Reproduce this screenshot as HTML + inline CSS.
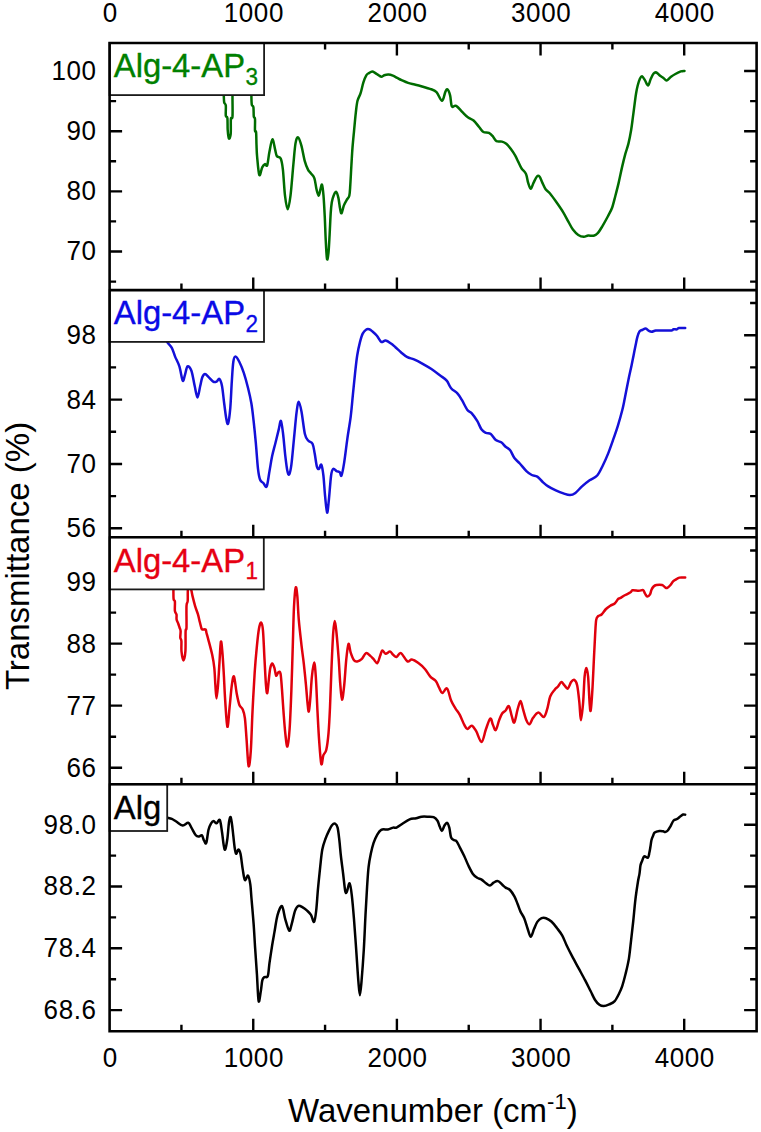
<!DOCTYPE html><html><head><meta charset="utf-8"><style>html,body{margin:0;padding:0;background:#fff;}svg{display:block;}text{font-family:"Liberation Sans",sans-serif;}</style></head><body>
<svg width="761" height="1132" viewBox="0 0 761 1132">
<rect x="0" y="0" width="761" height="1132" fill="#fff"/>
<defs>
<clipPath id="c0"><rect x="109.6" y="43.0" width="647.0" height="247.10000000000002"/></clipPath>
<clipPath id="c1"><rect x="109.6" y="290.1" width="647.0" height="247.10000000000002"/></clipPath>
<clipPath id="c2"><rect x="109.6" y="537.2" width="647.0" height="247.0999999999999"/></clipPath>
<clipPath id="c3"><rect x="109.6" y="784.3" width="647.0" height="247.0"/></clipPath>
</defs>
<path clip-path="url(#c0)" d="M223.60,86.00 C223.63,87.60 223.70,92.87 223.80,95.60 C223.90,98.33 223.87,100.75 224.20,102.40 C224.53,104.05 225.53,103.27 225.80,105.50 C226.07,107.73 225.53,113.70 225.80,115.80 C226.07,117.90 227.08,115.73 227.40,118.10 C227.72,120.47 227.45,126.58 227.70,130.00 C227.95,133.42 228.40,137.95 228.90,138.60 C229.40,139.25 230.37,137.18 230.70,133.90 C231.03,130.62 230.60,121.80 230.90,118.90 C231.20,116.00 232.23,120.32 232.50,116.50 C232.77,112.68 232.42,101.08 232.50,96.00 C232.58,90.92 231.42,88.67 233.00,86.00 C234.58,83.33 238.93,80.00 242.00,80.00 C245.07,80.00 249.83,83.33 251.40,86.00 C252.97,88.67 251.33,92.88 251.40,96.00 C251.47,99.12 251.47,102.85 251.80,104.70 C252.13,106.55 253.07,105.13 253.40,107.10 C253.73,109.07 253.53,114.53 253.80,116.50 C254.07,118.47 254.80,116.53 255.00,118.90 C255.20,121.27 254.82,128.47 255.00,130.70 C255.18,132.93 255.85,129.92 256.10,132.30 C256.35,134.68 256.33,140.97 256.50,145.00 C256.67,149.03 256.63,151.50 257.10,156.50 C257.57,161.50 258.45,173.18 259.30,175.00 C260.15,176.82 261.25,169.22 262.20,167.40 C263.15,165.58 264.17,164.47 265.00,164.10 C265.83,163.73 266.47,167.20 267.20,165.20 C267.93,163.20 268.53,156.40 269.40,152.10 C270.27,147.80 271.43,139.77 272.40,139.40 C273.37,139.03 274.47,147.13 275.20,149.90 C275.93,152.67 275.88,154.55 276.80,156.00 C277.72,157.45 279.68,156.33 280.70,158.60 C281.72,160.87 282.18,163.42 282.90,169.60 C283.62,175.78 284.20,189.08 285.00,195.70 C285.80,202.32 286.78,209.30 287.70,209.30 C288.62,209.30 289.57,203.05 290.50,195.70 C291.43,188.35 292.47,173.92 293.30,165.20 C294.13,156.48 294.70,148.05 295.50,143.40 C296.30,138.75 297.12,136.93 298.10,137.30 C299.08,137.67 300.30,141.68 301.40,145.60 C302.50,149.52 303.60,156.80 304.70,160.80 C305.80,164.80 306.95,167.48 308.00,169.60 C309.05,171.72 309.93,172.05 311.00,173.50 C312.07,174.95 313.48,175.68 314.40,178.30 C315.32,180.92 315.78,186.30 316.50,189.20 C317.22,192.10 318.03,195.70 318.70,195.70 C319.37,195.70 319.95,191.02 320.50,189.20 C321.05,187.38 321.50,183.72 322.00,184.80 C322.50,185.88 323.03,190.23 323.50,195.70 C323.97,201.17 324.43,210.32 324.80,217.60 C325.17,224.88 325.33,232.50 325.70,239.40 C326.07,246.30 326.53,256.82 327.00,259.00 C327.47,261.18 328.07,256.50 328.50,252.50 C328.93,248.50 329.23,241.55 329.60,235.00 C329.97,228.45 330.33,218.65 330.70,213.20 C331.07,207.75 331.32,205.22 331.80,202.30 C332.28,199.38 332.87,197.45 333.60,195.70 C334.33,193.95 335.40,191.43 336.20,191.80 C337.00,192.17 337.75,195.07 338.40,197.90 C339.05,200.73 339.57,206.25 340.10,208.80 C340.63,211.35 340.98,213.73 341.60,213.20 C342.22,212.67 342.97,207.78 343.80,205.60 C344.63,203.42 345.68,201.75 346.60,200.10 C347.52,198.45 348.68,198.25 349.30,195.70 C349.92,193.15 349.95,189.88 350.30,184.80 C350.65,179.72 351.03,171.38 351.40,165.20 C351.77,159.02 352.05,153.52 352.50,147.70 C352.95,141.88 353.55,136.12 354.10,130.30 C354.65,124.48 355.23,117.72 355.80,112.80 C356.37,107.88 356.70,104.07 357.50,100.80 C358.30,97.53 359.62,96.28 360.60,93.20 C361.58,90.12 362.45,85.28 363.40,82.30 C364.35,79.32 365.38,76.83 366.30,75.30 C367.22,73.77 367.92,73.75 368.90,73.10 C369.88,72.45 371.12,71.40 372.20,71.40 C373.28,71.40 374.32,72.45 375.40,73.10 C376.48,73.75 377.68,74.68 378.70,75.30 C379.72,75.92 380.58,76.80 381.50,76.80 C382.42,76.80 383.03,75.67 384.20,75.30 C385.37,74.93 387.05,74.53 388.50,74.60 C389.95,74.67 391.45,75.15 392.90,75.70 C394.35,76.25 395.75,77.17 397.20,77.90 C398.65,78.63 399.78,79.27 401.60,80.10 C403.42,80.93 405.92,82.17 408.10,82.90 C410.28,83.63 412.52,83.95 414.70,84.50 C416.88,85.05 419.02,85.58 421.20,86.20 C423.38,86.82 426.33,87.77 427.80,88.20 C429.27,88.63 428.55,88.15 430.00,88.80 C431.45,89.45 434.50,90.10 436.50,92.10 C438.50,94.10 440.53,100.80 442.00,100.80 C443.47,100.80 444.40,94.02 445.30,92.10 C446.20,90.18 446.60,88.75 447.40,89.30 C448.20,89.85 449.37,92.57 450.10,95.40 C450.83,98.23 450.97,104.57 451.80,106.30 C452.63,108.03 454.18,105.73 455.10,105.80 C456.02,105.87 456.03,105.60 457.30,106.70 C458.57,107.80 460.88,110.58 462.70,112.40 C464.52,114.22 466.38,116.25 468.20,117.60 C470.02,118.95 471.78,118.93 473.60,120.50 C475.42,122.07 477.47,125.08 479.10,127.00 C480.73,128.92 481.77,131.02 483.40,132.00 C485.03,132.98 487.27,132.10 488.90,132.90 C490.53,133.70 491.93,135.42 493.20,136.80 C494.47,138.18 495.03,140.40 496.50,141.20 C497.97,142.00 500.37,141.17 502.00,141.60 C503.63,142.03 504.85,142.60 506.30,143.80 C507.75,145.00 509.23,146.87 510.70,148.80 C512.17,150.73 513.83,153.22 515.10,155.40 C516.37,157.58 517.22,159.72 518.30,161.90 C519.38,164.08 520.32,166.50 521.60,168.50 C522.88,170.50 524.92,171.55 526.00,173.90 C527.08,176.25 527.30,180.12 528.10,182.60 C528.90,185.08 529.88,188.80 530.80,188.80 C531.72,188.80 532.58,184.65 533.60,182.60 C534.62,180.55 535.92,177.52 536.90,176.50 C537.88,175.48 538.60,175.48 539.50,176.50 C540.40,177.52 541.28,180.48 542.30,182.60 C543.32,184.72 544.32,187.38 545.60,189.20 C546.88,191.02 548.18,191.32 550.00,193.50 C551.82,195.68 554.32,199.20 556.50,202.30 C558.68,205.40 561.10,208.83 563.10,212.10 C565.10,215.37 566.87,218.98 568.50,221.90 C570.13,224.82 571.27,227.42 572.90,229.60 C574.53,231.78 576.48,233.80 578.30,235.00 C580.12,236.20 582.15,236.72 583.80,236.80 C585.45,236.88 586.57,235.68 588.20,235.50 C589.83,235.32 591.97,236.15 593.60,235.70 C595.23,235.25 596.55,234.37 598.00,232.80 C599.45,231.23 600.67,229.02 602.30,226.30 C603.93,223.58 606.17,219.60 607.80,216.50 C609.43,213.40 610.83,211.17 612.10,207.70 C613.37,204.23 614.30,199.88 615.40,195.70 C616.50,191.52 617.60,187.32 618.70,182.60 C619.80,177.88 620.92,172.12 622.00,167.40 C623.08,162.68 624.12,158.30 625.20,154.30 C626.28,150.30 627.52,147.40 628.50,143.40 C629.48,139.40 630.37,134.67 631.10,130.30 C631.83,125.93 632.32,121.57 632.90,117.20 C633.48,112.83 634.07,108.10 634.60,104.10 C635.13,100.10 635.58,96.30 636.10,93.20 C636.62,90.10 637.08,87.87 637.70,85.50 C638.32,83.13 639.08,80.55 639.80,79.00 C640.52,77.45 641.15,76.02 642.00,76.20 C642.85,76.38 643.88,78.55 644.90,80.10 C645.92,81.65 647.13,85.68 648.10,85.50 C649.07,85.32 649.78,81.00 650.70,79.00 C651.62,77.00 652.65,74.58 653.60,73.50 C654.55,72.42 655.32,72.13 656.40,72.50 C657.48,72.87 658.93,74.80 660.10,75.70 C661.27,76.60 662.30,77.10 663.40,77.90 C664.50,78.70 665.43,80.68 666.70,80.50 C667.97,80.32 669.55,77.88 671.00,76.80 C672.45,75.72 673.77,74.90 675.40,74.00 C677.03,73.10 679.28,71.92 680.80,71.40 C682.32,70.88 683.88,70.98 684.50,70.90" fill="none" stroke="#006c00" stroke-width="2.5" stroke-linejoin="round" stroke-linecap="round"/>
<path clip-path="url(#c1)" d="M163.00,334.00 C163.73,335.40 165.93,340.10 167.40,342.40 C168.87,344.70 170.52,345.43 171.80,347.80 C173.08,350.17 173.83,353.50 175.10,356.60 C176.37,359.70 178.13,362.40 179.40,366.40 C180.67,370.40 181.78,379.15 182.70,380.60 C183.62,382.05 184.10,377.47 184.90,375.10 C185.70,372.73 186.42,367.13 187.50,366.40 C188.58,365.67 190.20,367.43 191.40,370.70 C192.60,373.97 193.68,381.55 194.70,386.00 C195.72,390.45 196.58,397.40 197.50,397.40 C198.42,397.40 199.40,389.35 200.20,386.00 C201.00,382.65 201.50,379.30 202.30,377.30 C203.10,375.30 203.90,374.00 205.00,374.00 C206.10,374.00 207.53,376.03 208.90,377.30 C210.27,378.57 211.93,380.88 213.20,381.60 C214.47,382.32 215.47,382.03 216.50,381.60 C217.53,381.17 218.48,378.27 219.40,379.00 C220.32,379.73 221.20,381.92 222.00,386.00 C222.80,390.08 223.48,398.05 224.20,403.50 C224.92,408.95 225.65,415.37 226.30,418.70 C226.95,422.03 227.43,425.32 228.10,423.50 C228.77,421.68 229.68,414.78 230.30,407.80 C230.92,400.82 231.30,389.23 231.80,381.60 C232.30,373.97 232.68,366.17 233.30,362.00 C233.92,357.83 234.48,356.60 235.50,356.60 C236.52,356.60 238.02,359.28 239.40,362.00 C240.78,364.72 242.35,368.53 243.80,372.90 C245.25,377.27 246.83,383.10 248.10,388.20 C249.37,393.30 250.48,398.05 251.40,403.50 C252.32,408.95 252.87,414.37 253.60,420.90 C254.33,427.43 255.07,434.70 255.80,442.70 C256.53,450.70 257.28,462.72 258.00,468.90 C258.72,475.08 259.20,477.43 260.10,479.80 C261.00,482.17 262.30,482.00 263.40,483.10 C264.50,484.20 265.68,488.40 266.70,486.40 C267.72,484.40 268.58,476.20 269.50,471.10 C270.42,466.00 271.20,460.53 272.20,455.80 C273.20,451.07 274.42,447.07 275.50,442.70 C276.58,438.33 277.80,433.23 278.70,429.60 C279.60,425.97 280.17,420.17 280.90,420.90 C281.63,421.63 282.37,428.18 283.10,434.00 C283.83,439.82 284.58,449.62 285.30,455.80 C286.02,461.98 286.75,468.00 287.40,471.10 C288.05,474.20 288.53,475.48 289.20,474.40 C289.87,473.32 290.60,470.60 291.40,464.60 C292.20,458.60 293.13,447.13 294.00,438.40 C294.87,429.67 295.80,418.32 296.60,412.20 C297.40,406.08 297.97,401.70 298.80,401.70 C299.63,401.70 300.58,406.82 301.60,412.20 C302.62,417.58 303.80,429.27 304.90,434.00 C306.00,438.73 306.93,438.97 308.20,440.60 C309.47,442.23 311.42,441.63 312.50,443.80 C313.58,445.97 313.97,449.78 314.70,453.60 C315.43,457.42 316.17,464.15 316.90,466.70 C317.63,469.25 318.37,469.25 319.10,468.90 C319.83,468.55 320.58,463.50 321.30,464.60 C322.02,465.70 322.78,470.42 323.40,475.50 C324.02,480.58 324.38,488.92 325.00,495.10 C325.62,501.28 326.45,511.87 327.10,512.60 C327.75,513.33 328.23,505.68 328.90,499.50 C329.57,493.32 330.38,480.60 331.10,475.50 C331.82,470.40 332.30,469.63 333.20,468.90 C334.10,468.17 335.40,470.55 336.50,471.10 C337.60,471.65 338.97,471.47 339.80,472.20 C340.63,472.93 340.77,477.13 341.50,475.50 C342.23,473.87 343.22,468.58 344.20,462.40 C345.18,456.22 346.32,446.03 347.40,438.40 C348.48,430.77 349.78,423.88 350.70,416.60 C351.62,409.32 352.17,401.98 352.90,394.70 C353.63,387.42 354.38,379.43 355.10,372.90 C355.82,366.37 356.40,360.58 357.20,355.50 C358.00,350.42 358.98,346.05 359.90,342.40 C360.82,338.75 361.68,335.72 362.70,333.60 C363.72,331.48 364.92,330.42 366.00,329.70 C367.08,328.98 368.12,329.00 369.20,329.30 C370.28,329.60 371.22,330.42 372.50,331.50 C373.78,332.58 375.45,334.07 376.90,335.80 C378.35,337.53 379.75,341.10 381.20,341.90 C382.65,342.70 383.97,340.33 385.60,340.60 C387.23,340.87 389.37,342.40 391.00,343.50 C392.63,344.60 393.75,345.75 395.40,347.20 C397.05,348.65 398.90,350.53 400.90,352.20 C402.90,353.87 405.22,356.00 407.40,357.20 C409.58,358.40 411.45,358.30 414.00,359.40 C416.55,360.50 419.80,362.20 422.70,363.80 C425.60,365.40 428.48,367.05 431.40,369.00 C434.32,370.95 437.65,373.57 440.20,375.50 C442.75,377.43 444.88,378.48 446.70,380.60 C448.52,382.72 449.28,386.03 451.10,388.20 C452.92,390.37 455.78,391.60 457.60,393.60 C459.42,395.60 460.37,397.47 462.00,400.20 C463.63,402.93 465.77,407.82 467.40,410.00 C469.03,412.18 470.17,411.48 471.80,413.30 C473.43,415.12 475.57,418.18 477.20,420.90 C478.83,423.62 480.13,427.60 481.60,429.60 C483.07,431.60 484.47,432.17 486.00,432.90 C487.53,433.63 489.17,432.80 490.80,434.00 C492.43,435.20 494.07,438.72 495.80,440.10 C497.53,441.48 499.57,441.20 501.20,442.30 C502.83,443.40 504.13,445.42 505.60,446.70 C507.07,447.98 508.53,448.12 510.00,450.00 C511.47,451.88 512.77,455.75 514.40,458.00 C516.03,460.25 517.80,461.32 519.80,463.50 C521.80,465.68 524.40,469.18 526.40,471.10 C528.40,473.02 529.98,474.08 531.80,475.00 C533.62,475.92 535.48,475.43 537.30,476.60 C539.12,477.77 540.88,480.37 542.70,482.00 C544.52,483.63 546.02,485.02 548.20,486.40 C550.38,487.78 553.27,489.13 555.80,490.30 C558.33,491.47 561.03,492.60 563.40,493.40 C565.77,494.20 568.00,495.18 570.00,495.10 C572.00,495.02 573.40,494.35 575.40,492.90 C577.40,491.45 579.63,488.50 582.00,486.40 C584.37,484.30 587.07,482.12 589.60,480.30 C592.13,478.48 595.02,477.93 597.20,475.50 C599.38,473.07 600.88,469.35 602.70,465.70 C604.52,462.05 606.28,458.15 608.10,453.60 C609.92,449.05 611.95,443.12 613.60,438.40 C615.25,433.68 616.55,430.03 618.00,425.30 C619.45,420.57 621.18,414.42 622.30,410.00 C623.42,405.58 623.68,403.82 624.70,398.80 C625.72,393.78 627.25,385.50 628.40,379.90 C629.55,374.30 630.72,369.40 631.60,365.20 C632.48,361.00 633.00,358.20 633.70,354.70 C634.40,351.20 635.18,347.18 635.80,344.20 C636.42,341.22 636.78,338.92 637.40,336.80 C638.02,334.68 638.72,332.63 639.50,331.50 C640.28,330.37 641.05,330.48 642.10,330.00 C643.15,329.52 644.75,328.52 645.80,328.60 C646.85,328.68 647.45,329.97 648.40,330.50 C649.35,331.03 650.27,331.80 651.50,331.80 C652.73,331.80 654.03,330.72 655.80,330.50 C657.57,330.28 659.48,330.50 662.10,330.50 C664.72,330.50 669.58,330.72 671.50,330.50 C673.42,330.28 672.72,329.38 673.60,329.20 C674.48,329.02 675.92,329.60 676.80,329.40 C677.68,329.20 677.50,328.23 678.90,328.00 C680.30,327.77 684.15,328.00 685.20,328.00" fill="none" stroke="#1410d8" stroke-width="2.5" stroke-linejoin="round" stroke-linecap="round"/>
<path clip-path="url(#c2)" d="M173.20,578.00 C173.23,579.90 173.33,585.90 173.40,589.40 C173.47,592.90 173.35,596.98 173.60,599.00 C173.85,601.02 174.68,599.52 174.90,601.50 C175.12,603.48 174.63,608.73 174.90,610.90 C175.17,613.07 176.22,613.08 176.50,614.50 C176.78,615.92 176.32,617.90 176.60,619.40 C176.88,620.90 177.72,622.15 178.20,623.50 C178.68,624.85 179.10,626.25 179.50,627.50 C179.90,628.75 180.47,629.32 180.60,631.00 C180.73,632.68 180.17,635.93 180.30,637.60 C180.43,639.27 181.20,638.70 181.40,641.00 C181.60,643.30 181.17,648.15 181.50,651.40 C181.83,654.65 182.75,660.50 183.40,660.50 C184.05,660.50 185.03,656.27 185.40,651.40 C185.77,646.53 185.42,635.28 185.60,631.30 C185.78,627.32 186.35,631.72 186.50,627.50 C186.65,623.28 186.30,610.42 186.50,606.00 C186.70,601.58 187.47,603.67 187.70,601.00 C187.93,598.33 187.58,592.83 187.90,590.00 C188.22,587.17 189.03,584.00 189.60,584.00 C190.17,584.00 190.80,587.93 191.30,590.00 C191.80,592.07 191.95,593.68 192.60,596.40 C193.25,599.12 194.32,603.33 195.20,606.30 C196.08,609.27 197.13,611.58 197.90,614.20 C198.67,616.82 199.20,619.62 199.80,622.00 C200.40,624.38 201.03,627.25 201.50,628.50 C201.97,629.75 201.92,629.33 202.60,629.50 C203.28,629.67 204.95,628.92 205.60,629.50 C206.25,630.08 206.07,631.40 206.50,633.00 C206.93,634.60 207.25,635.47 208.20,639.10 C209.15,642.73 211.18,650.00 212.20,654.80 C213.22,659.60 213.77,662.80 214.30,667.90 C214.83,673.00 215.03,680.30 215.40,685.40 C215.77,690.50 216.07,698.50 216.50,698.50 C216.93,698.50 217.52,691.22 218.00,685.40 C218.48,679.58 218.92,670.88 219.40,663.60 C219.88,656.32 220.40,643.53 220.90,641.70 C221.40,639.87 221.93,647.50 222.40,652.60 C222.87,657.70 223.23,664.30 223.70,672.30 C224.17,680.30 224.58,691.52 225.20,700.60 C225.82,709.68 226.67,725.70 227.40,726.80 C228.13,727.90 228.87,714.10 229.60,707.20 C230.33,700.30 231.07,690.50 231.80,685.40 C232.53,680.30 233.17,675.15 234.00,676.60 C234.83,678.05 235.90,689.37 236.80,694.10 C237.70,698.83 238.42,702.45 239.40,705.00 C240.38,707.55 241.78,707.22 242.70,709.40 C243.62,711.58 244.25,713.02 244.90,718.10 C245.55,723.18 245.98,731.90 246.60,739.90 C247.22,747.90 247.90,764.28 248.60,766.10 C249.30,767.92 250.15,759.88 250.80,750.80 C251.45,741.72 251.85,724.68 252.50,711.60 C253.15,698.52 253.97,683.22 254.70,672.30 C255.43,661.38 256.18,653.38 256.90,646.10 C257.62,638.82 258.28,632.53 259.00,628.60 C259.72,624.67 260.53,622.13 261.20,622.50 C261.87,622.87 262.45,624.68 263.00,630.80 C263.55,636.92 264.00,650.10 264.50,659.20 C265.00,668.30 265.53,679.77 266.00,685.40 C266.47,691.03 266.82,694.10 267.30,693.00 C267.78,691.90 268.40,682.97 268.90,678.80 C269.40,674.63 269.75,670.53 270.30,668.00 C270.85,665.47 271.52,663.62 272.20,663.60 C272.88,663.58 273.75,665.90 274.40,667.90 C275.05,669.90 275.45,674.87 276.10,675.60 C276.75,676.33 277.57,672.67 278.30,672.30 C279.03,671.93 279.88,670.50 280.50,673.40 C281.12,676.30 281.50,683.33 282.00,689.70 C282.50,696.07 282.95,704.32 283.50,711.60 C284.05,718.88 284.65,727.58 285.30,733.40 C285.95,739.22 286.68,747.23 287.40,746.50 C288.12,745.77 288.93,738.47 289.60,729.00 C290.27,719.53 290.85,704.25 291.40,689.70 C291.95,675.15 292.47,655.52 292.90,641.70 C293.33,627.88 293.53,615.82 294.00,606.80 C294.47,597.78 295.15,589.42 295.70,587.60 C296.25,585.78 296.78,590.52 297.30,595.90 C297.82,601.28 298.08,611.53 298.80,619.90 C299.52,628.27 300.77,638.82 301.60,646.10 C302.43,653.38 303.07,657.05 303.80,663.60 C304.53,670.15 305.38,678.87 306.00,685.40 C306.62,691.93 307.03,698.43 307.50,702.80 C307.97,707.17 308.33,712.32 308.80,711.60 C309.27,710.88 309.78,704.33 310.30,698.50 C310.82,692.67 311.27,682.60 311.90,676.60 C312.53,670.60 313.45,662.50 314.10,662.50 C314.75,662.50 315.23,668.42 315.80,676.60 C316.37,684.78 316.95,701.05 317.50,711.60 C318.05,722.15 318.47,731.18 319.10,739.90 C319.73,748.62 320.58,761.35 321.30,763.90 C322.02,766.45 322.57,757.57 323.40,755.20 C324.23,752.83 325.45,753.33 326.30,749.70 C327.15,746.07 327.88,740.48 328.50,733.40 C329.12,726.32 329.50,718.12 330.00,707.20 C330.50,696.28 330.97,680.27 331.50,667.90 C332.03,655.53 332.65,640.82 333.20,633.00 C333.75,625.18 334.25,621.00 334.80,621.00 C335.35,621.00 335.85,626.63 336.50,633.00 C337.15,639.37 338.08,650.83 338.70,659.20 C339.32,667.57 339.65,676.47 340.20,683.20 C340.75,689.93 341.33,699.23 342.00,699.60 C342.67,699.97 343.48,692.13 344.20,685.40 C344.92,678.67 345.58,666.12 346.30,659.20 C347.02,652.28 347.77,645.00 348.50,643.90 C349.23,642.80 349.78,649.87 350.70,652.60 C351.62,655.33 352.92,658.83 354.00,660.30 C355.08,661.77 355.93,661.58 357.20,661.40 C358.47,661.22 360.13,660.58 361.60,659.20 C363.07,657.82 364.55,653.65 366.00,653.10 C367.45,652.55 369.03,654.88 370.30,655.90 C371.57,656.92 372.43,658.00 373.60,659.20 C374.77,660.40 376.22,663.65 377.30,663.10 C378.38,662.55 379.27,658.00 380.10,655.90 C380.93,653.80 381.38,650.87 382.30,650.50 C383.22,650.13 384.32,653.52 385.60,653.70 C386.88,653.88 388.73,651.42 390.00,651.60 C391.27,651.78 392.12,653.90 393.20,654.80 C394.28,655.70 395.22,657.28 396.50,657.00 C397.78,656.72 399.08,652.37 400.90,653.10 C402.72,653.83 405.58,660.32 407.40,661.40 C409.22,662.48 409.97,659.32 411.80,659.60 C413.63,659.88 416.22,661.53 418.40,663.10 C420.58,664.67 422.92,666.75 424.90,669.00 C426.88,671.25 428.48,674.60 430.30,676.60 C432.12,678.60 434.33,679.17 435.80,681.00 C437.27,682.83 438.02,685.60 439.10,687.60 C440.18,689.60 440.97,692.83 442.30,693.00 C443.63,693.17 445.63,687.33 447.10,688.60 C448.57,689.87 449.72,697.32 451.10,700.60 C452.48,703.88 453.95,705.93 455.40,708.30 C456.85,710.67 458.33,712.07 459.80,714.80 C461.27,717.53 462.93,722.33 464.20,724.70 C465.47,727.07 466.13,728.83 467.40,729.00 C468.67,729.17 470.33,725.33 471.80,725.70 C473.27,726.07 474.57,728.47 476.20,731.20 C477.83,733.93 479.97,742.47 481.60,742.10 C483.23,741.73 484.55,732.93 486.00,729.00 C487.45,725.07 489.15,719.22 490.30,718.50 C491.45,717.78 491.98,722.77 492.90,724.70 C493.82,726.63 494.77,730.83 495.80,730.10 C496.83,729.37 498.02,723.10 499.10,720.30 C500.18,717.50 501.22,714.93 502.30,713.30 C503.38,711.67 504.50,711.70 505.60,710.50 C506.70,709.30 507.88,705.20 508.90,706.10 C509.92,707.00 510.80,713.17 511.70,715.90 C512.60,718.63 513.32,723.58 514.30,722.50 C515.28,721.42 516.57,712.97 517.60,709.40 C518.63,705.83 519.58,701.10 520.50,701.10 C521.42,701.10 522.12,706.20 523.10,709.40 C524.08,712.60 525.32,717.83 526.40,720.30 C527.48,722.77 528.52,724.57 529.60,724.20 C530.68,723.83 531.43,720.03 532.90,718.10 C534.37,716.17 536.58,712.78 538.40,712.60 C540.22,712.42 542.35,717.53 543.80,717.00 C545.25,716.47 546.02,712.85 547.10,709.40 C548.18,705.95 549.03,699.58 550.30,696.30 C551.57,693.02 553.42,691.33 554.70,689.70 C555.98,688.07 556.90,687.77 558.00,686.50 C559.10,685.23 560.22,682.28 561.30,682.10 C562.38,681.92 563.42,684.32 564.50,685.40 C565.58,686.48 566.70,689.15 567.80,688.60 C568.90,688.05 570.02,683.55 571.10,682.10 C572.18,680.65 573.28,679.35 574.30,679.90 C575.32,680.45 576.35,681.58 577.20,685.40 C578.05,689.22 578.78,696.98 579.40,702.80 C580.02,708.62 580.28,720.30 580.90,720.30 C581.52,720.30 582.48,710.08 583.10,702.80 C583.72,695.52 584.07,682.42 584.60,676.60 C585.13,670.78 585.72,667.90 586.30,667.90 C586.88,667.90 587.55,670.78 588.10,676.60 C588.65,682.42 589.17,697.15 589.60,702.80 C590.03,708.45 590.23,712.68 590.70,710.50 C591.17,708.32 591.85,698.62 592.40,689.70 C592.95,680.78 593.55,666.08 594.00,657.00 C594.45,647.92 594.73,641.38 595.10,635.20 C595.47,629.02 595.67,623.10 596.20,619.90 C596.73,616.70 597.40,616.90 598.30,616.00 C599.20,615.10 600.32,615.67 601.60,614.50 C602.88,613.33 604.55,610.47 606.00,609.00 C607.45,607.53 608.85,606.62 610.30,605.70 C611.75,604.78 613.42,604.58 614.70,603.50 C615.98,602.42 617.12,600.10 618.00,599.20 C618.88,598.30 618.78,598.80 620.00,598.10 C621.22,597.40 623.55,595.97 625.30,595.00 C627.05,594.03 629.28,593.10 630.50,592.30 C631.72,591.50 631.20,590.45 632.60,590.20 C634.00,589.95 637.15,590.80 638.90,590.80 C640.65,590.80 642.05,589.68 643.10,590.20 C644.15,590.72 644.50,592.85 645.20,593.90 C645.90,594.95 646.50,596.42 647.30,596.50 C648.10,596.58 649.30,595.53 650.00,594.40 C650.70,593.27 650.90,591.02 651.50,589.70 C652.10,588.38 652.80,587.28 653.60,586.50 C654.40,585.72 654.88,585.25 656.30,585.00 C657.72,584.75 660.62,584.60 662.10,585.00 C663.58,585.40 664.33,586.93 665.20,587.40 C666.07,587.87 666.42,588.20 667.30,587.80 C668.18,587.40 669.53,586.08 670.50,585.00 C671.47,583.92 672.23,582.18 673.10,581.30 C673.97,580.42 674.65,580.32 675.70,579.70 C676.75,579.08 677.82,577.95 679.40,577.60 C680.98,577.25 684.23,577.60 685.20,577.60" fill="none" stroke="#e0000c" stroke-width="2.5" stroke-linejoin="round" stroke-linecap="round"/>
<path clip-path="url(#c3)" d="M163.00,817.00 C163.73,817.13 165.93,817.48 167.40,817.80 C168.87,818.12 170.33,818.28 171.80,818.90 C173.27,819.52 174.38,820.40 176.20,821.50 C178.02,822.60 180.70,825.28 182.70,825.50 C184.70,825.72 186.75,822.45 188.20,822.80 C189.65,823.15 190.13,825.52 191.40,827.60 C192.67,829.68 194.52,833.83 195.80,835.30 C197.08,836.77 198.08,836.40 199.10,836.40 C200.12,836.40 201.07,834.58 201.90,835.30 C202.73,836.02 203.37,839.43 204.10,840.70 C204.83,841.97 205.57,844.72 206.30,842.90 C207.03,841.08 207.70,833.07 208.50,829.80 C209.30,826.53 210.23,824.75 211.10,823.30 C211.97,821.85 212.80,821.10 213.70,821.10 C214.60,821.10 215.48,823.48 216.50,823.30 C217.52,823.12 218.88,818.55 219.80,820.00 C220.72,821.45 221.35,827.82 222.00,832.00 C222.65,836.18 223.17,842.18 223.70,845.10 C224.23,848.02 224.58,850.60 225.20,849.50 C225.82,848.40 226.77,843.05 227.40,838.50 C228.03,833.95 228.45,825.75 229.00,822.20 C229.55,818.65 230.13,816.30 230.70,817.20 C231.27,818.10 231.75,822.58 232.40,827.60 C233.05,832.62 233.98,842.93 234.60,847.30 C235.22,851.67 235.48,853.43 236.10,853.80 C236.72,854.17 237.57,849.50 238.30,849.50 C239.03,849.50 239.77,850.53 240.50,853.80 C241.23,857.07 241.97,864.73 242.70,869.10 C243.43,873.47 244.00,878.92 244.90,880.00 C245.80,881.08 247.20,874.87 248.10,875.60 C249.00,876.33 249.75,880.75 250.30,884.40 C250.85,888.05 250.85,890.97 251.40,897.50 C251.95,904.03 252.98,915.25 253.60,923.60 C254.22,931.95 254.55,939.23 255.10,947.60 C255.65,955.97 256.32,964.88 256.90,973.80 C257.48,982.72 257.95,998.18 258.60,1001.10 C259.25,1004.02 260.18,994.75 260.80,991.30 C261.42,987.85 261.68,982.77 262.30,980.40 C262.92,978.03 263.58,977.83 264.50,977.10 C265.42,976.37 266.97,978.37 267.80,976.00 C268.63,973.63 268.77,968.07 269.50,962.90 C270.23,957.73 271.38,950.08 272.20,945.00 C273.02,939.92 273.50,937.42 274.40,932.40 C275.30,927.38 276.33,919.27 277.60,914.90 C278.87,910.53 280.72,905.47 282.00,906.20 C283.28,906.93 284.10,915.23 285.30,919.30 C286.50,923.37 288.12,929.88 289.20,930.60 C290.28,931.32 290.82,926.93 291.80,923.60 C292.78,920.27 294.00,913.57 295.10,910.60 C296.20,907.63 297.13,906.35 298.40,905.80 C299.67,905.25 301.25,906.50 302.70,907.30 C304.15,908.10 305.72,909.33 307.10,910.60 C308.48,911.87 309.83,913.02 311.00,914.90 C312.17,916.78 313.23,922.62 314.10,921.90 C314.97,921.18 315.55,916.13 316.20,910.60 C316.85,905.07 317.33,895.98 318.00,888.70 C318.67,881.42 319.48,873.43 320.20,866.90 C320.92,860.37 321.40,854.23 322.30,849.50 C323.20,844.77 324.50,841.60 325.60,838.50 C326.70,835.40 327.80,833.15 328.90,830.90 C330.00,828.65 331.18,826.20 332.20,825.00 C333.22,823.80 334.10,823.27 335.00,823.70 C335.90,824.13 336.87,824.77 337.60,827.60 C338.33,830.43 338.85,835.97 339.40,840.70 C339.95,845.43 340.28,850.53 340.90,856.00 C341.52,861.47 342.38,867.68 343.10,873.50 C343.82,879.32 344.58,887.82 345.20,890.90 C345.82,893.98 346.07,893.27 346.80,892.00 C347.53,890.73 348.77,882.75 349.60,883.30 C350.43,883.85 351.07,889.30 351.80,895.30 C352.53,901.30 353.27,910.22 354.00,919.30 C354.73,928.38 355.48,939.62 356.20,949.80 C356.92,959.98 357.68,972.83 358.30,980.40 C358.92,987.97 359.35,995.20 359.90,995.20 C360.45,995.20 360.95,987.97 361.60,980.40 C362.25,972.83 363.15,960.72 363.80,949.80 C364.45,938.88 364.95,925.43 365.50,914.90 C366.05,904.37 366.58,894.60 367.10,886.60 C367.62,878.60 367.98,872.37 368.60,866.90 C369.22,861.43 369.97,857.80 370.80,853.80 C371.63,849.80 372.58,845.98 373.60,842.90 C374.62,839.82 375.63,837.48 376.90,835.30 C378.17,833.12 379.38,830.78 381.20,829.80 C383.02,828.82 385.80,829.77 387.80,829.40 C389.80,829.03 391.75,827.90 393.20,827.60 C394.65,827.30 394.85,828.32 396.50,827.60 C398.15,826.88 400.92,824.68 403.10,823.30 C405.28,821.92 407.42,820.13 409.60,819.30 C411.78,818.47 414.20,818.73 416.20,818.30 C418.20,817.87 419.60,816.97 421.60,816.70 C423.60,816.43 426.20,816.62 428.20,816.70 C430.20,816.78 432.05,816.53 433.60,817.20 C435.15,817.87 436.48,819.15 437.50,820.70 C438.52,822.25 438.97,824.80 439.70,826.50 C440.43,828.20 441.10,831.07 441.90,830.90 C442.70,830.73 443.63,826.85 444.50,825.50 C445.37,824.15 446.30,822.45 447.10,822.80 C447.90,823.15 448.63,825.15 449.30,827.60 C449.97,830.05 450.27,835.38 451.10,837.50 C451.93,839.62 453.40,839.68 454.30,840.30 C455.20,840.92 455.58,840.03 456.50,841.20 C457.42,842.37 458.52,844.83 459.80,847.30 C461.08,849.77 462.75,852.92 464.20,856.00 C465.65,859.08 467.05,862.82 468.50,865.80 C469.95,868.78 471.45,871.90 472.90,873.90 C474.35,875.90 475.75,876.85 477.20,877.80 C478.65,878.75 480.13,878.68 481.60,879.60 C483.07,880.52 484.62,882.32 486.00,883.30 C487.38,884.28 488.63,885.62 489.90,885.50 C491.17,885.38 492.25,883.33 493.60,882.60 C494.95,881.87 496.55,880.73 498.00,881.10 C499.45,881.47 501.03,883.72 502.30,884.80 C503.57,885.88 504.32,886.73 505.60,887.60 C506.88,888.47 508.53,888.53 510.00,890.00 C511.47,891.47 513.13,894.07 514.40,896.40 C515.67,898.73 516.58,901.47 517.60,904.00 C518.62,906.53 519.40,909.23 520.50,911.60 C521.60,913.97 523.05,915.47 524.20,918.20 C525.35,920.93 526.32,924.92 527.40,928.00 C528.48,931.08 529.60,936.52 530.70,936.70 C531.80,936.88 532.90,931.57 534.00,929.10 C535.10,926.63 536.03,923.72 537.30,921.90 C538.57,920.08 540.15,918.82 541.60,918.20 C543.05,917.58 544.37,917.65 546.00,918.20 C547.63,918.75 549.58,919.87 551.40,921.50 C553.22,923.13 555.08,925.65 556.90,928.00 C558.72,930.35 560.67,932.68 562.30,935.60 C563.93,938.52 565.05,942.03 566.70,945.50 C568.35,948.97 570.20,952.58 572.20,956.40 C574.20,960.22 576.53,964.40 578.70,968.40 C580.87,972.40 583.20,976.58 585.20,980.40 C587.20,984.22 589.05,988.03 590.70,991.30 C592.35,994.57 593.65,997.75 595.10,1000.00 C596.55,1002.25 597.95,1003.78 599.40,1004.80 C600.85,1005.82 602.17,1006.17 603.80,1006.10 C605.43,1006.03 607.38,1005.23 609.20,1004.40 C611.02,1003.57 613.05,1002.92 614.70,1001.10 C616.35,999.28 617.83,996.05 619.10,993.50 C620.37,990.95 621.22,989.08 622.30,985.80 C623.38,982.52 624.50,978.33 625.60,973.80 C626.70,969.27 628.00,964.05 628.90,958.60 C629.80,953.15 630.28,947.28 631.00,941.10 C631.72,934.92 632.47,928.42 633.20,921.50 C633.93,914.58 634.62,906.18 635.40,899.60 C636.18,893.02 637.22,886.33 637.90,882.00 C638.58,877.67 639.07,876.40 639.50,873.60 C639.93,870.80 640.07,867.30 640.50,865.20 C640.93,863.10 641.48,862.48 642.10,861.00 C642.72,859.52 643.23,856.83 644.20,856.30 C645.17,855.77 647.03,858.42 647.90,857.80 C648.77,857.18 648.97,854.52 649.40,852.60 C649.83,850.68 650.15,848.40 650.50,846.30 C650.85,844.20 651.07,841.75 651.50,840.00 C651.93,838.25 652.57,837.03 653.10,835.80 C653.63,834.57 653.65,833.40 654.70,832.60 C655.75,831.80 658.00,831.22 659.40,831.00 C660.80,830.78 662.13,831.12 663.10,831.30 C664.07,831.48 664.42,832.23 665.20,832.10 C665.98,831.97 666.92,831.47 667.80,830.50 C668.68,829.53 669.53,827.97 670.50,826.30 C671.47,824.63 672.47,821.73 673.60,820.50 C674.73,819.27 676.15,819.60 677.30,818.90 C678.45,818.20 679.53,817.03 680.50,816.30 C681.47,815.57 682.32,814.77 683.10,814.50 C683.88,814.23 684.85,814.67 685.20,814.70" fill="none" stroke="#000000" stroke-width="2.5" stroke-linejoin="round" stroke-linecap="round"/>
<path d="M109.6,71.0h12.5M756.6,71.0h-12.5M109.6,131.2h12.5M756.6,131.2h-12.5M109.6,191.4h12.5M756.6,191.4h-12.5M109.6,251.5h12.5M756.6,251.5h-12.5M109.6,101.1h6.5M756.6,101.1h-6.5M109.6,161.3h6.5M756.6,161.3h-6.5M109.6,221.4h6.5M756.6,221.4h-6.5M109.6,281.6h6.5M756.6,281.6h-6.5M181.43,290.1v-6.5M253.25,290.1v-12.5M325.07,290.1v-6.5M396.90,290.1v-12.5M468.73,290.1v-6.5M540.55,290.1v-12.5M612.38,290.1v-6.5M684.20,290.1v-12.5M109.6,335.2h12.5M756.6,335.2h-12.5M109.6,399.6h12.5M756.6,399.6h-12.5M109.6,464.0h12.5M756.6,464.0h-12.5M109.6,528.3h12.5M756.6,528.3h-12.5M109.6,303.0h6.5M756.6,303.0h-6.5M109.6,367.4h6.5M756.6,367.4h-6.5M109.6,431.8h6.5M756.6,431.8h-6.5M109.6,496.1h6.5M756.6,496.1h-6.5M181.43,537.2v-6.5M253.25,537.2v-12.5M325.07,537.2v-6.5M396.90,537.2v-12.5M468.73,537.2v-6.5M540.55,537.2v-12.5M612.38,537.2v-6.5M684.20,537.2v-12.5M109.6,581.6h12.5M756.6,581.6h-12.5M109.6,643.6h12.5M756.6,643.6h-12.5M109.6,705.6h12.5M756.6,705.6h-12.5M109.6,767.8h12.5M756.6,767.8h-12.5M109.6,550.5h6.5M756.6,550.5h-6.5M109.6,612.6h6.5M756.6,612.6h-6.5M109.6,674.6h6.5M756.6,674.6h-6.5M109.6,736.7h6.5M756.6,736.7h-6.5M181.43,784.3v-6.5M253.25,784.3v-12.5M325.07,784.3v-6.5M396.90,784.3v-12.5M468.73,784.3v-6.5M540.55,784.3v-12.5M612.38,784.3v-6.5M684.20,784.3v-12.5M109.6,824.7h12.5M756.6,824.7h-12.5M109.6,886.5h12.5M756.6,886.5h-12.5M109.6,948.3h12.5M756.6,948.3h-12.5M109.6,1010.1h12.5M756.6,1010.1h-12.5M109.6,793.8h6.5M756.6,793.8h-6.5M109.6,855.6h6.5M756.6,855.6h-6.5M109.6,917.4h6.5M756.6,917.4h-6.5M109.6,979.2h6.5M756.6,979.2h-6.5M181.43,1031.3v-6.5M253.25,1031.3v-12.5M325.07,1031.3v-6.5M396.90,1031.3v-12.5M468.73,1031.3v-6.5M540.55,1031.3v-12.5M612.38,1031.3v-6.5M684.20,1031.3v-12.5M181.43,43.0v6.5M253.25,43.0v12.5M325.07,43.0v6.5M396.90,43.0v12.5M468.73,43.0v6.5M540.55,43.0v12.5M612.38,43.0v6.5M684.20,43.0v12.5" fill="none" stroke="#000" stroke-width="2.4" stroke-linecap="butt"/>
<rect x="109.6" y="43.0" width="154.5" height="52.1" fill="#fff" stroke="#1a1a1a" stroke-width="1.8"/>
<text transform="translate(113.80,77.30) scale(1,1.04)" font-size="32.8" fill="#008000" stroke="#008000" stroke-width="0.35">Alg-4-AP</text><text transform="translate(245.60,84.70) scale(1,1.04)" font-size="22.5" fill="#008000" stroke="#008000" stroke-width="0.3">3</text>
<rect x="109.6" y="290.1" width="154.4" height="51.8" fill="#fff" stroke="#1a1a1a" stroke-width="1.8"/>
<text transform="translate(113.80,324.40) scale(1,1.04)" font-size="32.8" fill="#0a0ae6" stroke="#0a0ae6" stroke-width="0.35">Alg-4-AP</text><text transform="translate(245.60,331.80) scale(1,1.04)" font-size="22.5" fill="#0a0ae6" stroke="#0a0ae6" stroke-width="0.3">2</text>
<rect x="109.6" y="537.2" width="154.2" height="52.2" fill="#fff" stroke="#1a1a1a" stroke-width="1.8"/>
<text transform="translate(113.80,571.50) scale(1,1.04)" font-size="32.8" fill="#e60012" stroke="#e60012" stroke-width="0.35">Alg-4-AP</text><text transform="translate(245.60,578.90) scale(1,1.04)" font-size="22.5" fill="#e60012" stroke="#e60012" stroke-width="0.3">1</text>
<rect x="109.6" y="784.3" width="57.6" height="46.7" fill="#fff" stroke="#1a1a1a" stroke-width="1.8"/>
<text transform="translate(113.80,818.60) scale(1,1.04)" font-size="32.8" fill="#000000" stroke="#000000" stroke-width="0.35">Alg</text>
<path d="M109.6,43.0H756.6V1031.3H109.6ZM109.6,290.1H756.6M109.6,537.2H756.6M109.6,784.3H756.6" fill="none" stroke="#000" stroke-width="2.6" stroke-linejoin="miter"/>
<text transform="translate(96.60,79.90) scale(1,1.04)" font-size="26" text-anchor="end" letter-spacing="0.6">100</text>
<text transform="translate(96.60,140.10) scale(1,1.04)" font-size="26" text-anchor="end" letter-spacing="0.6">90</text>
<text transform="translate(96.60,200.30) scale(1,1.04)" font-size="26" text-anchor="end" letter-spacing="0.6">80</text>
<text transform="translate(96.60,260.40) scale(1,1.04)" font-size="26" text-anchor="end" letter-spacing="0.6">70</text>
<text transform="translate(96.60,344.10) scale(1,1.04)" font-size="26" text-anchor="end" letter-spacing="0.6">98</text>
<text transform="translate(96.60,408.50) scale(1,1.04)" font-size="26" text-anchor="end" letter-spacing="0.6">84</text>
<text transform="translate(96.60,472.90) scale(1,1.04)" font-size="26" text-anchor="end" letter-spacing="0.6">70</text>
<text transform="translate(96.60,537.20) scale(1,1.04)" font-size="26" text-anchor="end" letter-spacing="0.6">56</text>
<text transform="translate(96.60,590.50) scale(1,1.04)" font-size="26" text-anchor="end" letter-spacing="0.6">99</text>
<text transform="translate(96.60,652.50) scale(1,1.04)" font-size="26" text-anchor="end" letter-spacing="0.6">88</text>
<text transform="translate(96.60,714.50) scale(1,1.04)" font-size="26" text-anchor="end" letter-spacing="0.6">77</text>
<text transform="translate(96.60,776.70) scale(1,1.04)" font-size="26" text-anchor="end" letter-spacing="0.6">66</text>
<text transform="translate(96.60,833.60) scale(1,1.04)" font-size="26" text-anchor="end" letter-spacing="0.6">98.0</text>
<text transform="translate(96.60,895.40) scale(1,1.04)" font-size="26" text-anchor="end" letter-spacing="0.6">88.2</text>
<text transform="translate(96.60,957.20) scale(1,1.04)" font-size="26" text-anchor="end" letter-spacing="0.6">78.4</text>
<text transform="translate(96.60,1019.00) scale(1,1.04)" font-size="26" text-anchor="end" letter-spacing="0.6">68.6</text>
<text transform="translate(110.20,21.80) scale(1,1.04)" font-size="26" text-anchor="middle" letter-spacing="0.6">0</text>
<text transform="translate(110.20,1066.60) scale(1,1.04)" font-size="26" text-anchor="middle" letter-spacing="0.6">0</text>
<text transform="translate(253.85,21.80) scale(1,1.04)" font-size="26" text-anchor="middle" letter-spacing="0.6">1000</text>
<text transform="translate(253.85,1066.60) scale(1,1.04)" font-size="26" text-anchor="middle" letter-spacing="0.6">1000</text>
<text transform="translate(397.50,21.80) scale(1,1.04)" font-size="26" text-anchor="middle" letter-spacing="0.6">2000</text>
<text transform="translate(397.50,1066.60) scale(1,1.04)" font-size="26" text-anchor="middle" letter-spacing="0.6">2000</text>
<text transform="translate(541.15,21.80) scale(1,1.04)" font-size="26" text-anchor="middle" letter-spacing="0.6">3000</text>
<text transform="translate(541.15,1066.60) scale(1,1.04)" font-size="26" text-anchor="middle" letter-spacing="0.6">3000</text>
<text transform="translate(684.80,21.80) scale(1,1.04)" font-size="26" text-anchor="middle" letter-spacing="0.6">4000</text>
<text transform="translate(684.80,1066.60) scale(1,1.04)" font-size="26" text-anchor="middle" letter-spacing="0.6">4000</text>
<text transform="translate(29,556) rotate(-90) scale(1,1.01)" font-size="33" text-anchor="middle">Transmittance (%)</text>
<text transform="translate(288.00,1121.50) scale(1,1.01)" font-size="33">Wavenumber (cm<tspan font-size="22" dy="-12">-1</tspan><tspan dy="12">)</tspan></text>
</svg></body></html>
